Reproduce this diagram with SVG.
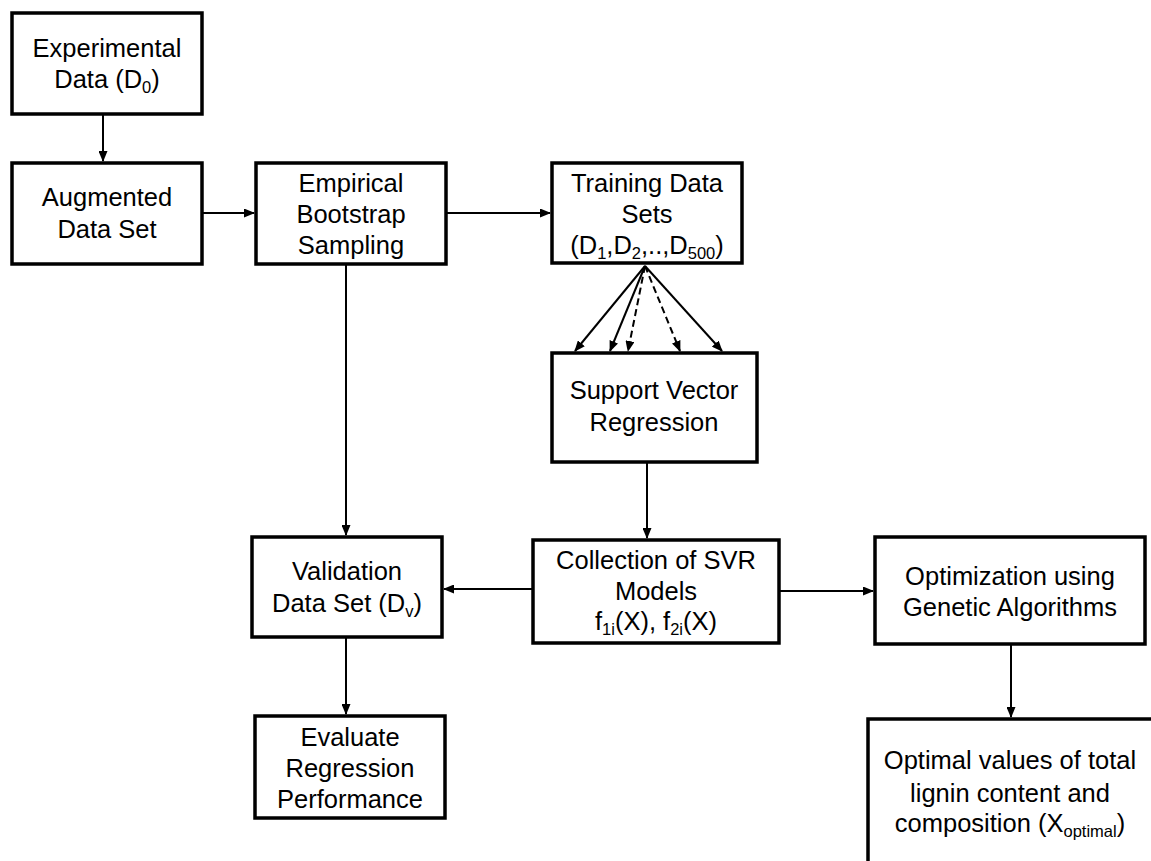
<svg xmlns="http://www.w3.org/2000/svg" width="1151" height="861" viewBox="0 0 1151 861">
<style>
.box{fill:#fff;stroke:#000;stroke-width:3.5}
.t{font-family:"Liberation Sans",Arial,sans-serif;font-size:25.5px;fill:#000;text-anchor:middle}
.s{font-size:16.5px}
.c{fill:none;stroke:#000;stroke-width:2}
.d{stroke-dasharray:7,4}
</style>
<defs>
<marker id="ah" markerUnits="userSpaceOnUse" markerWidth="11" markerHeight="9" refX="10" refY="4.5" orient="auto">
<path d="M0,0 L11,4.5 L0,9 z" fill="#000"/>
</marker>
</defs>
<rect width="1151" height="861" fill="#fff"/>
<g id="connectors">
<line class="c" x1="103" y1="115" x2="103" y2="161" marker-end="url(#ah)"/>
<line class="c" x1="203" y1="213" x2="254" y2="213" marker-end="url(#ah)"/>
<line class="c" x1="447" y1="213" x2="550" y2="213" marker-end="url(#ah)"/>
<line class="c" x1="645" y1="266" x2="575" y2="351" marker-end="url(#ah)"/>
<line class="c" x1="645" y1="266" x2="610" y2="351" marker-end="url(#ah)"/>
<line class="c d" x1="645" y1="266" x2="628" y2="351" marker-end="url(#ah)"/>
<line class="c d" x1="645" y1="266" x2="680" y2="351" marker-end="url(#ah)"/>
<line class="c" x1="645" y1="266" x2="722" y2="351" marker-end="url(#ah)"/>
<line class="c" x1="647" y1="463" x2="647" y2="538" marker-end="url(#ah)"/>
<line class="c" x1="346" y1="265" x2="346" y2="535" marker-end="url(#ah)"/>
<line class="c" x1="532" y1="589" x2="444" y2="589" marker-end="url(#ah)"/>
<line class="c" x1="780" y1="591" x2="873" y2="591" marker-end="url(#ah)"/>
<line class="c" x1="346" y1="638" x2="346" y2="714" marker-end="url(#ah)"/>
<line class="c" x1="1011" y1="645" x2="1011" y2="717" marker-end="url(#ah)"/>
</g>
<g id="experimental">
<rect class="box" x="12" y="13" width="190" height="101"/>
<text class="t" x="107" y="57">Experimental</text>
<text class="t" x="107" y="88">Data (D<tspan class="s" dy="5">0</tspan><tspan dy="-5">)</tspan></text>
</g>
<g id="augmented">
<rect class="box" x="12" y="163" width="190" height="101"/>
<text class="t" x="107" y="206">Augmented</text>
<text class="t" x="107" y="238">Data Set</text>
</g>
<g id="bootstrap">
<rect class="box" x="256" y="163" width="190" height="101"/>
<text class="t" x="351" y="192">Empirical</text>
<text class="t" x="351" y="223">Bootstrap</text>
<text class="t" x="351" y="254">Sampling</text>
</g>
<g id="training">
<rect class="box" x="552" y="163" width="190" height="100"/>
<text class="t" x="647" y="192">Training Data</text>
<text class="t" x="647" y="223">Sets</text>
<text class="t" x="647" y="254">(D<tspan class="s" dy="5">1</tspan><tspan dy="-5">,D</tspan><tspan class="s" dy="5">2</tspan><tspan dy="-5">,..,D</tspan><tspan class="s" dy="5">500</tspan><tspan dy="-5">)</tspan></text>
</g>
<g id="svr">
<rect class="box" x="552" y="353" width="205" height="109"/>
<text class="t" x="654" y="399">Support Vector</text>
<text class="t" x="654" y="431">Regression</text>
</g>
<g id="collection">
<rect class="box" x="533" y="540" width="246" height="103"/>
<text class="t" x="656" y="569">Collection of SVR</text>
<text class="t" x="656" y="600">Models</text>
<text class="t" x="656" y="630">f<tspan class="s" dy="5">1i</tspan><tspan dy="-5">(X), f</tspan><tspan class="s" dy="5">2i</tspan><tspan dy="-5">(X)</tspan></text>
</g>
<g id="validation">
<rect class="box" x="252" y="537" width="190" height="100"/>
<text class="t" x="347" y="580">Validation</text>
<text class="t" x="347" y="612">Data Set (D<tspan class="s" dy="5">v</tspan><tspan dy="-5">)</tspan></text>
</g>
<g id="evaluate">
<rect class="box" x="255" y="716" width="190" height="102"/>
<text class="t" x="350" y="746">Evaluate</text>
<text class="t" x="350" y="777">Regression</text>
<text class="t" x="350" y="808">Performance</text>
</g>
<g id="optimization">
<rect class="box" x="875" y="537" width="270" height="107"/>
<text class="t" x="1010" y="585">Optimization using</text>
<text class="t" x="1010" y="616">Genetic Algorithms</text>
</g>
<g id="optimal">
<rect class="box" x="868" y="719" width="320" height="200"/>
<text class="t" x="1010" y="769">Optimal values of total</text>
<text class="t" x="1010" y="802">lignin content and</text>
<text class="t" x="1010" y="832">composition (X<tspan class="s" dy="5">optimal</tspan><tspan dy="-5">)</tspan></text>
</g>
</svg>
